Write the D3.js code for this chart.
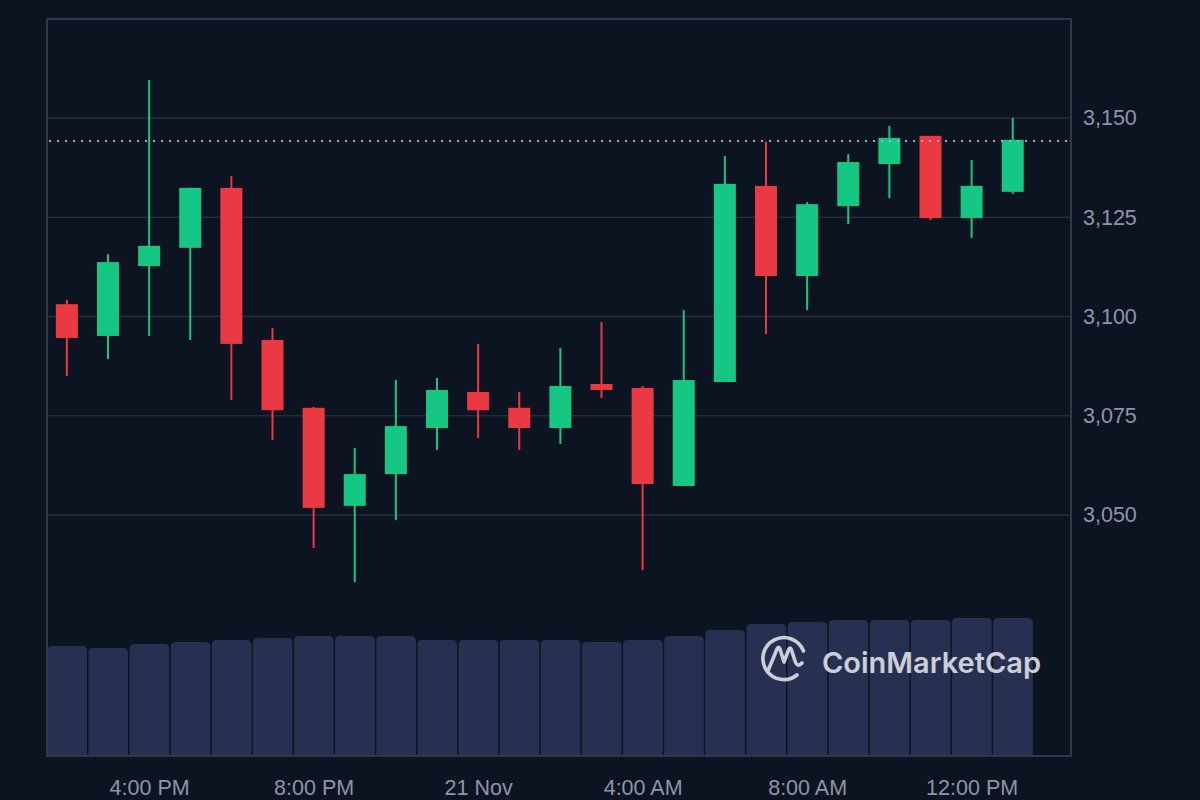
<!DOCTYPE html>
<html>
<head>
<meta charset="utf-8">
<script src="https://cdn.jsdelivr.net/npm/d3@7"></script>
<style>
  body { margin: 0; background: #0d1421; }
  svg { display: block; }
  .tick text { font-family: "Liberation Sans", Arial, sans-serif; }
</style>
</head>
<body>
<script>
// hourly candles, 20 Nov 2:00 PM -> 21 Nov 1:00 PM
var hours  = d3.range(24).map(function(i){ return new Date(Date.UTC(2024, 10, 20, 14 + i)); });
var opens  = [3103.1, 3095.1, 3112.7, 3117.3, 3132.4, 3094.1, 3077.0, 3052.3, 3060.3, 3071.9, 3081.0, 3077.0,
              3071.9, 3083.0, 3082.0, 3057.3, 3083.5, 3132.9, 3110.2, 3127.8, 3138.4, 3145.5, 3124.8, 3131.4];
var highs  = [3104.2, 3115.7, 3159.6, 3132.5, 3135.4, 3097.1, 3077.2, 3066.9, 3084.0, 3084.5, 3093.1, 3081.0,
              3092.1, 3098.6, 3082.5, 3101.6, 3140.4, 3144.0, 3128.8, 3140.9, 3148.0, 3145.5, 3139.4, 3150.0];
var lows   = [3085.0, 3089.3, 3095.1, 3094.1, 3079.0, 3068.9, 3041.7, 3033.1, 3048.7, 3066.4, 3069.4, 3066.4,
              3067.9, 3079.5, 3036.1, 3057.3, 3083.5, 3095.6, 3101.6, 3123.3, 3129.8, 3124.3, 3119.8, 3130.9];
var closes = [3094.6, 3113.7, 3117.8, 3132.4, 3093.1, 3076.4, 3051.8, 3060.3, 3072.4, 3081.5, 3076.4, 3071.9,
              3082.5, 3081.5, 3057.8, 3084.0, 3133.4, 3110.2, 3128.3, 3138.9, 3145.0, 3124.8, 3132.9, 3144.5];
var volumes = [110, 108, 112, 114, 116, 118, 120, 120, 120, 116, 116, 116,
               116, 114, 116, 120, 126, 132, 134, 136, 136, 136, 138, 138];
var lastPrice = 3144.2;
var priceTicks = [3050, 3075, 3100, 3125, 3150];

var svgWidth = 1200;
var svgHeight = 800;

var frame = { left: 47, right: 1071, top: 19, bottom: 756 };

var candles = hours.map(function(t, i){
    return { t: t, o: opens[i], h: highs[i], l: lows[i], c: closes[i], v: volumes[i] };
});

var svg = d3.select("body")
    .append("svg")
    .attr("width", svgWidth)
    .attr("height", svgHeight);

svg.append("rect")
    .attr("width", svgWidth)
    .attr("height", svgHeight)
    .attr("fill", "#0d1421");

// scales
var x = d3.scaleUtc()
    .domain([new Date(Date.UTC(2024, 10, 20, 13, 31)), new Date(Date.UTC(2024, 10, 21, 14, 25))])
    .range([frame.left, frame.right]);

var y = d3.scaleLinear()
    .domain([3050, 3150])
    .range([515, 118]);

var vy = d3.scaleLinear()
    .domain([0, d3.max(volumes)])
    .range([frame.bottom, 618]);

var step = x(hours[1]) - x(hours[0]);
var bodyW = 22;

// horizontal grid
svg.append("g")
    .selectAll("line")
    .data(priceTicks)
    .enter()
    .append("line")
    .attr("x1", frame.left)
    .attr("x2", frame.right)
    .attr("y1", function(d){ return y(d); })
    .attr("y2", function(d){ return y(d); })
    .attr("stroke", "#262c39")
    .attr("stroke-width", 1.5);

// volume bars (rounded tops)
svg.append("g")
    .selectAll("path")
    .data(candles)
    .enter()
    .append("path")
    .attr("fill", "#273051")
    .attr("d", function(d){
        var x0 = x(d.t) - step / 2 + 1, x1 = x(d.t) + step / 2 - 0.5;
        var top = vy(d.v), bot = frame.bottom, r = 5;
        return "M" + x0 + "," + bot + "V" + (top + r) + "Q" + x0 + "," + top + " " + (x0 + r) + "," + top +
               "H" + (x1 - r) + "Q" + x1 + "," + top + " " + x1 + "," + (top + r) + "V" + bot + "Z";
    });

// frame
svg.append("path")
    .attr("d", "M" + frame.left + "," + frame.bottom + "V" + frame.top + "H" + frame.right + "V" + frame.bottom + "Z")
    .attr("fill", "none")
    .attr("stroke", "#31374a")
    .attr("stroke-width", 2);

// watermark
var wm = svg.append("g").attr("opacity", 0.88);
wm.append("path")
    .attr("d", "M803.5,651 A21,21 0 1 0 797,675 " +
               "M767.5,672 L777,649 Q778.5,645.5 780,649 L784,662 L788.5,650 Q790,646 791.5,650 L795,661 Q797.5,668 802,663")
    .attr("fill", "none")
    .attr("stroke", "#e3e6ee")
    .attr("stroke-width", 3.6)
    .attr("stroke-linecap", "round")
    .attr("stroke-linejoin", "round");
wm.append("text")
    .attr("x", 822)
    .attr("y", 673)
    .attr("fill", "#e3e6ee")
    .style("font-family", "Inter, 'Noto Sans', sans-serif")
    .style("font-weight", 600)
    .style("font-size", "29px")
    .text("CoinMarketCap");

// candles
var cg = svg.append("g")
    .selectAll("g")
    .data(candles)
    .enter()
    .append("g")
    .attr("fill", function(d){ return d.c >= d.o ? "#16c784" : "#ea3943"; })
    .attr("stroke", function(d){ return d.c >= d.o ? "#16c784" : "#ea3943"; });

cg.append("line")
    .attr("x1", function(d){ return x(d.t); })
    .attr("x2", function(d){ return x(d.t); })
    .attr("y1", function(d){ return y(d.h); })
    .attr("y2", function(d){ return y(d.l); })
    .attr("stroke-width", 2);

cg.append("rect")
    .attr("x", function(d){ return x(d.t) - bodyW / 2; })
    .attr("width", bodyW)
    .attr("y", function(d){ return y(Math.max(d.o, d.c)); })
    .attr("height", function(d){ return Math.max(2, Math.abs(y(d.o) - y(d.c))); })
    .attr("stroke", "none");

// last price line
svg.append("line")
    .attr("x1", frame.left + 2)
    .attr("x2", frame.right - 4)
    .attr("y1", y(lastPrice))
    .attr("y2", y(lastPrice))
    .attr("stroke", "#a9afbf")
    .attr("stroke-width", 2)
    .attr("stroke-dasharray", "2,6");

// y axis labels
var yAxis = d3.axisRight(y)
    .tickValues(priceTicks)
    .tickSize(0)
    .tickPadding(12)
    .tickFormat(d3.format(","));

svg.append("g")
    .attr("transform", "translate(" + frame.right + ",0)")
    .call(yAxis)
    .call(function(g){ g.select(".domain").remove(); })
    .selectAll("text")
    .attr("fill", "#8d95a8")
    .style("font-size", "21.5px");

// x axis labels
var fmtHour = d3.utcFormat("%-I:%M %p");
var fmtDay = d3.utcFormat("%-d %b");
var xAxis = d3.axisBottom(x)
    .ticks(d3.utcHour.every(4))
    .tickSize(0)
    .tickPadding(24)
    .tickFormat(function(d){ return d.getUTCHours() === 0 ? fmtDay(d) : fmtHour(d); });

svg.append("g")
    .attr("transform", "translate(0," + frame.bottom + ")")
    .call(xAxis)
    .call(function(g){ g.select(".domain").remove(); })
    .selectAll("text")
    .attr("fill", "#8d95a8")
    .style("font-size", "21.5px");
</script>
</body>
</html>
